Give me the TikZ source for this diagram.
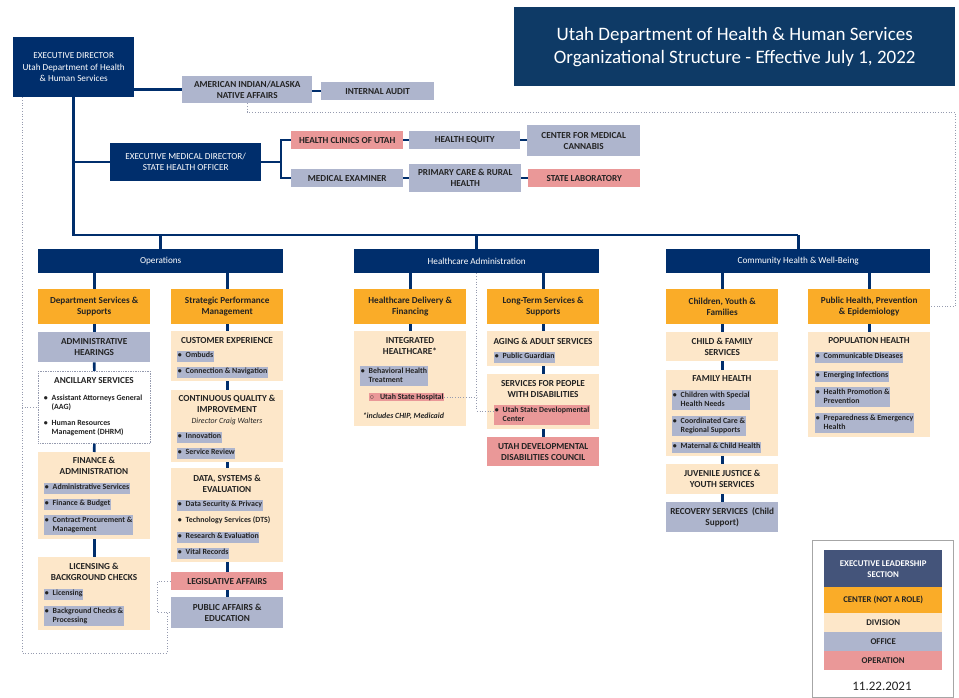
\documentclass[tikz,border=0pt]{standalone}
\usepackage{fontspec}
\setmainfont{Carlito}
\usetikzlibrary{calc}
\definecolor{navy}{RGB}{0,46,108}
\definecolor{tnavy}{RGB}{14,58,102}
\definecolor{cOrange}{RGB}{250,172,40}
\definecolor{cDiv}{RGB}{253,231,201}
\definecolor{cOff}{RGB}{174,181,205}
\definecolor{cOp}{RGB}{234,152,152}
\definecolor{cExec}{RGB}{68,84,122}
\definecolor{cDot}{RGB}{150,155,175}
\definecolor{cTxt}{RGB}{35,35,35}
\newcommand{\mybox}[7]{\node[#2, anchor=north west, minimum width={#5pt-#3pt}, minimum height={#6pt-#4pt}] (#1) at (#3,#4) {#7};}
\newcommand{\bu}[1]{\textbullet\hspace{4pt}\begin{tabular}[t]{@{}l@{}}#1\end{tabular}}
\tikzset{
  base/.style={rectangle, inner sep=1pt, align=center, text=cTxt, font=\fontsize{9.2}{11}\selectfont\bfseries},
  exec/.style={base, fill=navy, text=white, font=\fontsize{9.2}{11.2}\selectfont},
  tbox/.style={base, fill=tnavy, text=white, font=\fontsize{19}{23}\selectfont},
  ctr/.style={base, fill=cOrange},
  div/.style={base, fill=cDiv},
  off/.style={base, fill=cOff},
  opr/.style={base, fill=cOp},
  dbox/.style={base, fill=white, draw=cDot, densely dotted, line width=0.7pt},
  legframe/.style={base, draw=gray!70, line width=0.6pt},
  legx/.style={base, fill=cExec, text=white},
  legt/.style={font=\fontsize{8.8}{11}\selectfont\bfseries},
  ttl/.style={inner sep=0pt, align=center, font=\fontsize{9.2}{11}\selectfont\bfseries, text=cTxt},
  bul/.style={inner sep=0.6pt, anchor=west, font=\fontsize{7.9}{9.8}\selectfont\bfseries, text=cTxt},
  hlo/.style={bul, fill=cOff},
  hlp/.style={bul, fill=cOp},
  link/.style={draw=navy, line width=2.6pt},
  dot/.style={draw=cDot, dotted, line width=0.7pt}
}
\begin{document}
\begin{tikzpicture}[x=1pt,y=-1pt]
\useasboundingbox[fill=white] (0,0) rectangle (959,698);

% top section
\mybox{title}{tbox}{514}{7}{955}{86}{Utah Department of Health \& Human Services\\Organizational Structure - Effective July 1, 2022}
\mybox{ed}{exec}{13}{37}{134}{97}{EXECUTIVE DIRECTOR\\Utah Department of Health\\\& Human Services}
\mybox{ai}{off}{182}{76}{312}{103}{AMERICAN INDIAN/ALASKA\\NATIVE AFFAIRS}
\mybox{ia}{off}{321}{82}{434}{100}{INTERNAL AUDIT}
\mybox{emd}{exec}{110}{143}{261}{181}{EXECUTIVE MEDICAL DIRECTOR/\\STATE HEALTH OFFICER}
\mybox{hcu}{opr}{291}{131}{403}{149}{HEALTH CLINICS OF UTAH}
\mybox{he}{off}{409}{131}{520}{149}{HEALTH EQUITY}
\mybox{cmc}{off}{527}{125}{640}{156}{CENTER FOR MEDICAL\\CANNABIS}
\mybox{me}{off}{291}{169}{403}{187}{MEDICAL EXAMINER}
\mybox{pcr}{off}{409}{164}{521}{192}{PRIMARY CARE \& RURAL\\HEALTH}
\mybox{sl}{opr}{528}{169}{640}{187}{STATE LABORATORY}

% bars
\mybox{opb}{exec}{38}{249}{283}{273}{Operations}
\mybox{hab}{exec}{354}{249}{599}{273}{Healthcare Administration}
\mybox{chb}{exec}{666}{249}{930}{273}{Community Health \& Well-Being}

% centers
\mybox{dss}{ctr}{38}{289}{150}{324}{Department Services \&\\Supports}
\mybox{spm}{ctr}{171}{289}{283}{324}{Strategic Performance\\Management}
\mybox{hdf}{ctr}{354}{289}{466}{324}{Healthcare Delivery \&\\Financing}
\mybox{lts}{ctr}{487}{289}{599}{324}{Long-Term Services \&\\Supports}
\mybox{cyf}{ctr}{666}{289}{778}{324}{Children, Youth \&\\Families}
\mybox{php}{ctr}{808}{289}{930}{324}{Public Health, Prevention\\\& Epidemiology}

% operations column 1
\mybox{ah}{off}{38}{332}{150}{362}{ADMINISTRATIVE\\HEARINGS}
\mybox{anc}{dbox}{38}{371}{150}{443}{}
\node[ttl] (anct) at (94,381) {ANCILLARY SERVICES};
\node[bul] (anc1) at (43,403) {\bu{Assistant Attorneys General\\(AAG)}};
\node[bul] (anc2) at (43,428) {\bu{Human Resources\\Management (DHRM)}};
\mybox{fa}{div}{38}{452}{150}{539}{}
\node[ttl] (fat) at (94,466) {FINANCE \&\\ADMINISTRATION};
\node[hlo] (fa1) at (44,488) {\bu{Administrative Services}};
\node[hlo] (fa2) at (44,504) {\bu{Finance \& Budget}};
\node[hlo] (fa3) at (44,525) {\bu{Contract Procurement \&\\Management}};
\mybox{lbc}{div}{38}{557}{150}{630}{}
\node[ttl] (lbct) at (94,572) {LICENSING \&\\BACKGROUND CHECKS};
\node[hlo] (lbc1) at (44,594) {\bu{Licensing}};
\node[hlo] (lbc2) at (44,616) {\bu{Background Checks \&\\Processing}};

% operations column 2
\mybox{cx}{div}{171}{331}{283}{381}{}
\node[ttl] (cxt) at (227,341) {CUSTOMER EXPERIENCE};
\node[hlo] (cx1) at (177,356) {\bu{Ombuds}};
\node[hlo] (cx2) at (177,372) {\bu{Connection \& Navigation}};
\mybox{cqi}{div}{171}{390}{283}{462}{}
\node[ttl] (cqit) at (227,404) {CONTINUOUS QUALITY \&\\IMPROVEMENT};
\node[ttl, font=\fontsize{7.9}{9}\selectfont\itshape] (cqid) at (227,421) {Director Craig Walters};
\node[hlo] (cqi1) at (177,437) {\bu{Innovation}};
\node[hlo] (cqi2) at (177,453) {\bu{Service Review}};
\mybox{dse}{div}{171}{468}{283}{562}{}
\node[ttl] (dset) at (227,484) {DATA, SYSTEMS \&\\EVALUATION};
\node[hlo] (dse1) at (177,505) {\bu{Data Security \& Privacy}};
\node[bul] (dse2) at (177,521) {\bu{Technology Services (DTS)}};
\node[hlo] (dse3) at (177,537) {\bu{Research \& Evaluation}};
\node[hlo] (dse4) at (177,553) {\bu{Vital Records}};
\mybox{la}{opr}{171}{572}{283}{590}{LEGISLATIVE AFFAIRS}
\mybox{pae}{off}{171}{597}{283}{628}{PUBLIC AFFAIRS \&\\EDUCATION}

% healthcare column 1
\mybox{ih}{div}{354}{331}{466}{426}{}
\node[ttl] (iht) at (410,346) {INTEGRATED\\HEALTHCARE*};
\node[hlo] (ih1) at (360,376) {\bu{Behavioral Health\\Treatment}};
\node[hlp] (ush) at (369,397) {$\circ$\hspace{6pt}Utah State Hospital};
\node[bul, font=\fontsize{7.9}{9}\selectfont\bfseries\itshape] (ihn) at (362,416) {*includes CHIP, Medicaid};

% healthcare column 2
\mybox{aas}{div}{487}{331}{599}{366}{}
\node[ttl] (aast) at (543,341) {AGING \& ADULT SERVICES};
\node[hlo] (aas1) at (494,357) {\bu{Public Guardian}};
\mybox{spd}{div}{487}{374}{599}{429}{}
\node[ttl] (spdt) at (543,389) {SERVICES FOR PEOPLE\\WITH DISABILITIES};
\node[hlp] (usdc) at (494,415) {\bu{Utah State Developmental\\Center}};
\mybox{uddc}{opr}{487}{437}{599}{466}{UTAH DEVELOPMENTAL\\DISABILITIES COUNCIL}

% community column 1
\mybox{cfs}{div}{666}{332}{778}{361}{CHILD \& FAMILY\\SERVICES}
\mybox{fh}{div}{666}{370}{778}{456}{}
\node[ttl] (fht) at (722,379) {FAMILY HEALTH};
\node[hlo] (fh1) at (672,400) {\bu{Children with Special\\Health Needs}};
\node[hlo] (fh2) at (672,426) {\bu{Coordinated Care \&\\Regional Supports}};
\node[hlo] (fh3) at (672,447) {\bu{Maternal \& Child Health}};
\mybox{jj}{div}{666}{464}{778}{494}{JUVENILE JUSTICE \&\\YOUTH SERVICES}
\mybox{rs}{off}{666}{502}{778}{532}{RECOVERY SERVICES\ \ (Child\\Support)}

% community column 2
\mybox{pop}{div}{808}{332}{930}{437}{}
\node[ttl] (popt) at (869,341) {POPULATION HEALTH};
\node[hlo] (pop1) at (815,357) {\bu{Communicable Diseases}};
\node[hlo] (pop2) at (815,376) {\bu{Emerging Infections}};
\node[hlo] (pop3) at (815,397) {\bu{Health Promotion \&\\Prevention}};
\node[hlo] (pop4) at (815,423) {\bu{Preparedness \& Emergency\\Health}};

% legend
\mybox{leg}{legframe}{812}{540}{953}{697}{}
\mybox{lex}{legx, legt}{824}{550}{942}{587}{EXECUTIVE LEADERSHIP\\SECTION}
\mybox{lc}{ctr, legt}{824}{587}{942}{613}{CENTER (NOT A ROLE)}
\mybox{ld}{div, legt}{824}{613}{942}{632}{DIVISION}
\mybox{lo}{off, legt}{824}{632}{942}{651}{OFFICE}
\mybox{lp}{opr, legt}{824}{651}{942}{670}{OPERATION}
\node[font=\fontsize{13}{15}\selectfont, text=cTxt] (date) at (882,686) {11.22.2021};

% solid connectors
\coordinate (bus) at (73.5,235);
\coordinate (brk) at (281,162);
\draw[link] (ai.west -| ed.east) -- (ai.west);
\draw[link] (ia.west -| ai.east) -- (ia.west);
\draw[link] (ed.south) -- (ed.south |- bus) -- (bus -| chb.north);
\draw[link] (ed.south |- emd.west) -- (emd.west);
\draw[link] (emd.east) -- (brk |- emd.east);
\draw[link] (hcu.west) -| (brk) |- (me.west);
\draw[link] (hcu.east) -- (he.west);
\draw[link] (he.east) -- (he.east -| cmc.west);
\draw[link] (me.east) -- (me.east -| pcr.west);
\draw[link] (pcr.east |- sl.west) -- (sl.west);
\foreach \b in {opb,hab,chb} {\draw[link] (bus -| \b.north) -- (\b.north);}
\foreach \a/\b in {opb/dss,opb/spm,hab/hdf,hab/lts,chb/cyf,chb/php} {\draw[link] (\a.south -| \b.north) -- (\b.north);}
\foreach \a/\b in {dss/ah,ah/anc,anc/fa,fa/lbc,spm/cx,cx/cqi,cqi/dse,dse/la,la/pae,hdf/ih,lts/aas,aas/spd,spd/uddc,cyf/cfs,cfs/fh,fh/jj,jj/rs,php/pop} {\draw[link] (\a.south) -- (\b.north);}

% dotted connectors
\coordinate (lb) at (22,653);
\coordinate (lb2) at (167,653);
\coordinate (rb) at (955,112);
\path ([yshift=4pt]usdc.west) coordinate (usdcw);
\draw[dot] ([xshift=9pt]ed.south west) -- (lb) -- (lb2) -- (lb2 |- pae.west) -- (pae.west);
\draw[dot] (lb2 |- pae.west) -- ++(-10,0) |- (la.west);
\draw[dot] (lb |- anc.west) -- (anc.west);
\draw[dot] (ai.south) |- (rb) |- (php.east);
\draw[dot] (hab.south) -- (hab.south |- usdcw) -- (usdcw);
\draw[dot] (ush.east) -- (ush.east -| hab.south);
\end{tikzpicture}
\end{document}
